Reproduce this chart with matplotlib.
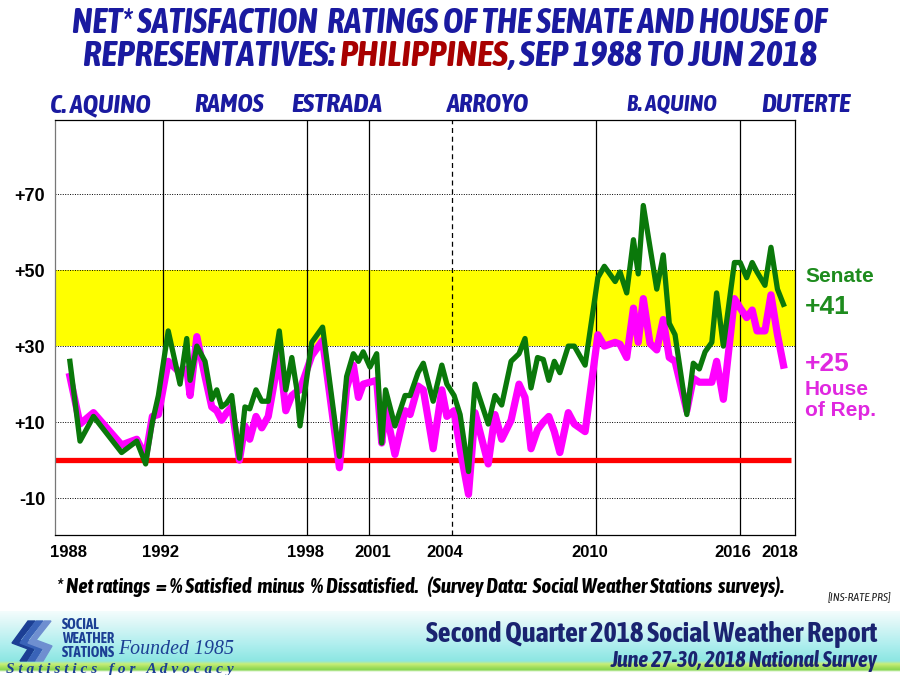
import numpy as np
import matplotlib
matplotlib.use("Agg")
import matplotlib.pyplot as plt
from matplotlib import font_manager as fm
from matplotlib.patches import Polygon
from matplotlib.colors import to_rgb

# ---------------- data ----------------
years = [1988.62, 1989.04, 1989.6, 1990.77, 1991.4, 1991.77, 1992.05, 1992.3, 1992.71, 1993.2,
         1993.48, 1993.62, 1993.9, 1994.24, 1994.52, 1994.73, 1994.93, 1995.14, 1995.35, 1995.67,
         1995.9, 1996.1, 1996.36, 1996.6, 1996.87, 1997.33, 1997.6, 1997.85, 1998.05, 1998.19,
         1998.68, 1999.13, 1999.83, 2000.13, 2000.41, 2000.62, 2000.82, 2001.1, 2001.38, 2001.59,
         2001.75, 2002.14, 2002.56, 2002.77, 2003.1, 2003.32, 2003.73, 2004.09, 2004.3, 2004.6,
         2004.85, 2005.2, 2005.47, 2006.02, 2006.3, 2006.58, 2006.97, 2007.3, 2007.55, 2007.8,
         2008.07, 2008.31, 2008.54, 2008.77, 2009.0, 2009.35, 2009.6, 2010.05, 2010.58, 2010.85,
         2011.3, 2011.5, 2011.78, 2012.06, 2012.26, 2012.47, 2012.75, 2013.03, 2013.3, 2013.55,
         2013.79, 2014.28, 2014.55, 2014.8, 2015.04, 2015.32, 2015.52, 2015.8, 2016.26, 2016.5,
         2016.77, 2017.0, 2017.2, 2017.53, 2017.78, 2018.05, 2018.3]
senate = [26, 5, 11.5, 2, 5, -1, 10, 17, 34, 20,
          32, 21, 30, 26, 16, 18.5, 14, 15, 17, 0.5,
          14, 13.5, 18.5, 15.5, 15.5, 34, 18.5, 27, 19, 9,
          31, 35, 1, 22, 28, 26, 28.5, 24.5, 28, 4.5,
          18.5, 9, 17, 17, 23, 25.5, 15.5, 25, 20, 17,
          12, -3, 20, 9.5, 17, 14.5, 26, 28, 32, 19,
          27, 26.5, 21, 26, 23, 30, 30, 25, 48, 51,
          47, 49.5, 44, 58, 49, 67, 56, 45, 54, 36,
          33, 12, 25.5, 24, 28.5, 31, 44, 30, 52, 52,
          48, 52, 49.5, 46, 56, 45, 41]
house = [22, 9.5, 12.5, 4, 5.5, 1, 11.5, 12, 26, 23,
         24, 17, 32.5, 22, 14, 13, 10.5, 12.5, 14, 0,
         9, 5.5, 11.5, 8.5, 11.5, 28, 13, 17, 18, 18.5,
         27.5, 31.5, -2, 19, 25, 16.5, 20, 20.5, 21, 4.5,
         13.5, 1.5, 13, 12, 19.5, 18.5, 3, 18.5, 11.5, 13,
         3, -9, 12.5, -1, 12, 5.5, 10.5, 20, 16.5, 3,
         8, 10, 11.5, 7.5, 2, 12.5, 9.5, 7.5, 33, 30,
         31, 30.5, 27, 40, 31, 42.5, 30.7, 29, 37, 27,
         26, 13, 21.5, 20.5, 20.5, 20.5, 26, 16, 42.5, 40,
         37.5, 39.5, 34, 34, 43.5, 33, 25]

president_names = ["C. AQUINO", "RAMOS", "ESTRADA", "ARROYO", "B. AQUINO", "DUTERTE"]
president_label_px = [100, 229, 337, 488, 672, 806]
president_label_w = [104, 72, 94, 85, 93, 92]
term_starts = [1992.5, 1998.5, 2001.05, 2004.5, 2010.5, 2016.5]
term_dashed = [False, False, False, True, False, False]
xtick_pos = [1988.55, 1992.4, 1998.4, 2001.2, 2004.2, 2010.25, 2016.2, 2018.15]
xtick_labels = ["1988", "1992", "1998", "2001", "2004", "2010", "2016", "2018"]
ytick_vals = [-10, 10, 30, 50, 70]
ytick_labels = ["-10", "+10", "+30", "+50", "+70"]
band_low, band_high = 30, 50
latest_senate = "+41"
latest_house = "+25"

# ---------------- fonts ----------------
ttf = fm.fontManager.ttflist
names = {f.name for f in ttf}
SANS = "Liberation Sans" if "Liberation Sans" in names else "DejaVu Sans"
SERIF = "Liberation Serif" if "Liberation Serif" in names else "DejaVu Serif"


def wnum(w):
    if isinstance(w, str):
        return fm.weight_dict.get(w, 400)
    return int(w)


def is_cond(f):
    return str(f.stretch) in ("condensed", "semi-condensed", "extra-condensed", "500", "600", "700") or \
        (isinstance(f.stretch, (int, float)) and f.stretch < 500)


NARROW_KW = None
if "Liberation Sans Narrow" in names:
    NARROW_KW = dict(family="Liberation Sans Narrow")
else:
    fams = {}
    for f in ttf:
        if "Narrow" in f.name or "Condensed" in f.name:
            fams.setdefault(f.name, set()).add((wnum(f.weight) >= 600, f.style != "normal"))
    best = [n for n, s in fams.items() if (True, True) in s]
    if not best:
        best = [n for n, s in fams.items() if (True, False) in s]
    if best:
        NARROW_KW = dict(family=sorted(best)[0])
    else:
        dv = [f for f in ttf if f.name == "DejaVu Sans" and is_cond(f) and wnum(f.weight) >= 600]
        if dv:
            NARROW_KW = dict(family="DejaVu Sans", stretch="condensed")
if NARROW_KW is None:
    NARROW_KW = dict(family=SANS)

W, H = 900, 675
fig = plt.figure(figsize=(9, 6.75), dpi=100)
fig.patch.set_facecolor("white")
renderer = fig.canvas.get_renderer()


def fx(x):
    return x / W


def fy(y):
    return 1 - y / H


def fit_text(x, y, s, target_w, size=12, ha="left", factor=1.0, maxsize=None, **kw):
    t = fig.text(fx(x), fy(y), s, fontsize=size, ha=ha, va="center", **kw)
    w = t.get_window_extent(renderer).width
    fs = size * target_w / w * factor
    if maxsize is not None:
        fs = min(fs, maxsize)
    t.set_fontsize(fs)
    return t


NAVY = "#1a1aa0"
TKW = dict(weight="bold", style="italic", **NARROW_KW)
# ---------------- title ----------------
fit_text(450, 23, "NET* SATISFACTION  RATINGS OF THE SENATE AND HOUSE OF", 786, 22,
         ha="center", factor=0.96, color=NAVY, **TKW)

parts = [("REPRESENTATIVES: ", NAVY), ("PHILIPPINES", "#a80000"), (", SEP 1988 TO JUN 2018", NAVY)]
tmp = [fig.text(0, 0, p, fontsize=22, **TKW) for p, c in parts]
widths = [t.get_window_extent(renderer).width for t in tmp]
for t in tmp:
    t.remove()
tw2 = 764 * 0.96
scale = tw2 / sum(widths)
fs2 = 22 * scale
x0 = 450 - tw2 / 2
for (p, c), w in zip(parts, widths):
    fig.text(fx(x0), fy(56), p, fontsize=fs2, color=c, ha="left", va="center", **TKW)
    x0 += w * scale

for name, px, pw in zip(president_names, president_label_px, president_label_w):
    fit_text(px, 105, name, pw, 14, ha="center", factor=0.97, color=NAVY, **TKW)

# ---------------- plot ----------------
ax = fig.add_axes([55 / W, 1 - 535 / H, 740 / W, 415 / H])
ax.set_xlim(1988.0, 2018.78)
ax.set_ylim(-19.7, 89.5)
ax.axhspan(band_low, band_high, color="#ffff00", zorder=0, lw=0)
for v in ytick_vals:
    ax.axhline(v, color="black", lw=0.7, linestyle=(0, (1, 1.5)), zorder=1)
for xs, dashed in zip(term_starts, term_dashed):
    ax.axvline(xs, color="black", lw=0.9, linestyle=(0, (4, 3)) if dashed else "-", zorder=1)
ax.axhline(0, xmin=0, xmax=0.994, color="#ff0000", lw=3.8, zorder=2, solid_capstyle="butt")

ax.plot(years, house, color="#ff00ff", lw=5.2, zorder=3, solid_joinstyle="round")
ax.plot(years, senate, color="#0a780a", lw=3.8, zorder=4, solid_joinstyle="round")

ax.set_yticks(ytick_vals)
ax.set_yticklabels(ytick_labels, fontsize=13, family=SANS, weight="bold")
ax.set_xticks(xtick_pos)
ax.set_xticklabels(xtick_labels, fontsize=12, family=SANS, weight="bold")
ax.tick_params(length=0, pad=7)
ax.tick_params(axis="y", pad=7)
for s in ax.spines.values():
    s.set_color("black")
    s.set_linewidth(0.9)
ax.spines["left"].set_color("#777777")

# right labels
fig.text(fx(805), fy(277), "Senate", fontsize=15, family=SANS, weight="bold", color="#1e8c1e", va="center")
fig.text(fx(805), fy(307), latest_senate, fontsize=19, family=SANS, weight="bold", color="#1e8c1e", va="center")
fig.text(fx(805), fy(364), latest_house, fontsize=19, family=SANS, weight="bold", color="#e028e0", va="center")
fig.text(fx(805), fy(390), "House", fontsize=15, family=SANS, weight="bold", color="#e028e0", va="center")
fig.text(fx(805), fy(411), "of Rep.", fontsize=15, family=SANS, weight="bold", color="#e028e0", va="center")

# footnote
fit_text(57, 587, "* Net ratings  = % Satisfied  minus  % Dissatisfied.   (Survey Data:  Social Weather Stations  surveys).",
         748, 11, factor=0.97, color="black", **TKW)
fit_text(828, 597, "[INS-RATE.PRS]", 64, 7, color="#222222", style="italic", **NARROW_KW)

# ---------------- banner ----------------
bax = fig.add_axes([0, 0, 1, 64 / H])
bax.set_xlim(0, W)
bax.set_ylim(675, 611)
bax.axis("off")
stops_y = [611, 625, 645, 661, 664, 667, 670, 672, 675]
stops_c = ["#f4fdfd", "#d8f6f6", "#aeeeee", "#8ce6e2", "#c8ee78", "#a6e060", "#86d650", "#ffffff", "#ffffff"]
ys = np.linspace(611, 675, 200)
cols = np.array([to_rgb(c) for c in stops_c])
grad = np.stack([np.interp(ys, stops_y, cols[:, k]) for k in range(3)], axis=-1)
bax.imshow(grad[:, None, :], extent=[0, W, 675, 611], aspect="auto", zorder=0)

# logo swoosh
LOGO = "#1c3f94"
for dx, c in [(0, LOGO), (8, "#3a63b8"), (16, "#6f8fd0")]:
    bax.add_patch(Polygon([[28 + dx, 621], [35 + dx, 621], [20 + dx, 640], [36 + dx, 646], [27 + dx, 661],
                           [20 + dx, 661], [28 + dx, 649], [12 + dx, 643]], closed=True, color=c, zorder=2))


def bfit(x, y, s, tw, size, maxsize=None, **kw):
    t = bax.text(x, y, s, fontsize=size, va="center", **kw)
    w = t.get_window_extent(renderer).width
    fs = size * tw / w
    if maxsize is not None:
        fs = min(fs, maxsize)
    t.set_fontsize(fs)
    return t


bfit(62, 625, "SOCIAL", 44, 11, maxsize=10.5, color=LOGO, weight="bold", **NARROW_KW)
bfit(62, 639, "WEATHER", 52, 11, maxsize=10.5, color=LOGO, weight="bold", **NARROW_KW)
bfit(62, 653, "STATIONS", 53, 11, maxsize=10.5, color=LOGO, weight="bold", **NARROW_KW)
bfit(118, 650, "Founded 1985", 116, 14, family=SERIF, style="italic", color=LOGO)
bfit(6, 669, "S t a t i s t i c s   f o r   A d v o c a c y", 228, 8.5, family=SERIF,
     style="italic", weight="bold", color=LOGO)

fit_text(877, 635, "Second Quarter 2018 Social Weather Report", 472, 16, ha="right", factor=0.96,
         color="#1a2370", weight="bold", **NARROW_KW)
fit_text(877, 661, "June 27-30, 2018 National Survey", 279, 12, ha="right", factor=0.96,
         color="#1a2370", weight="bold", style="italic", **NARROW_KW)

fig.savefig("out.png", dpi=100)
